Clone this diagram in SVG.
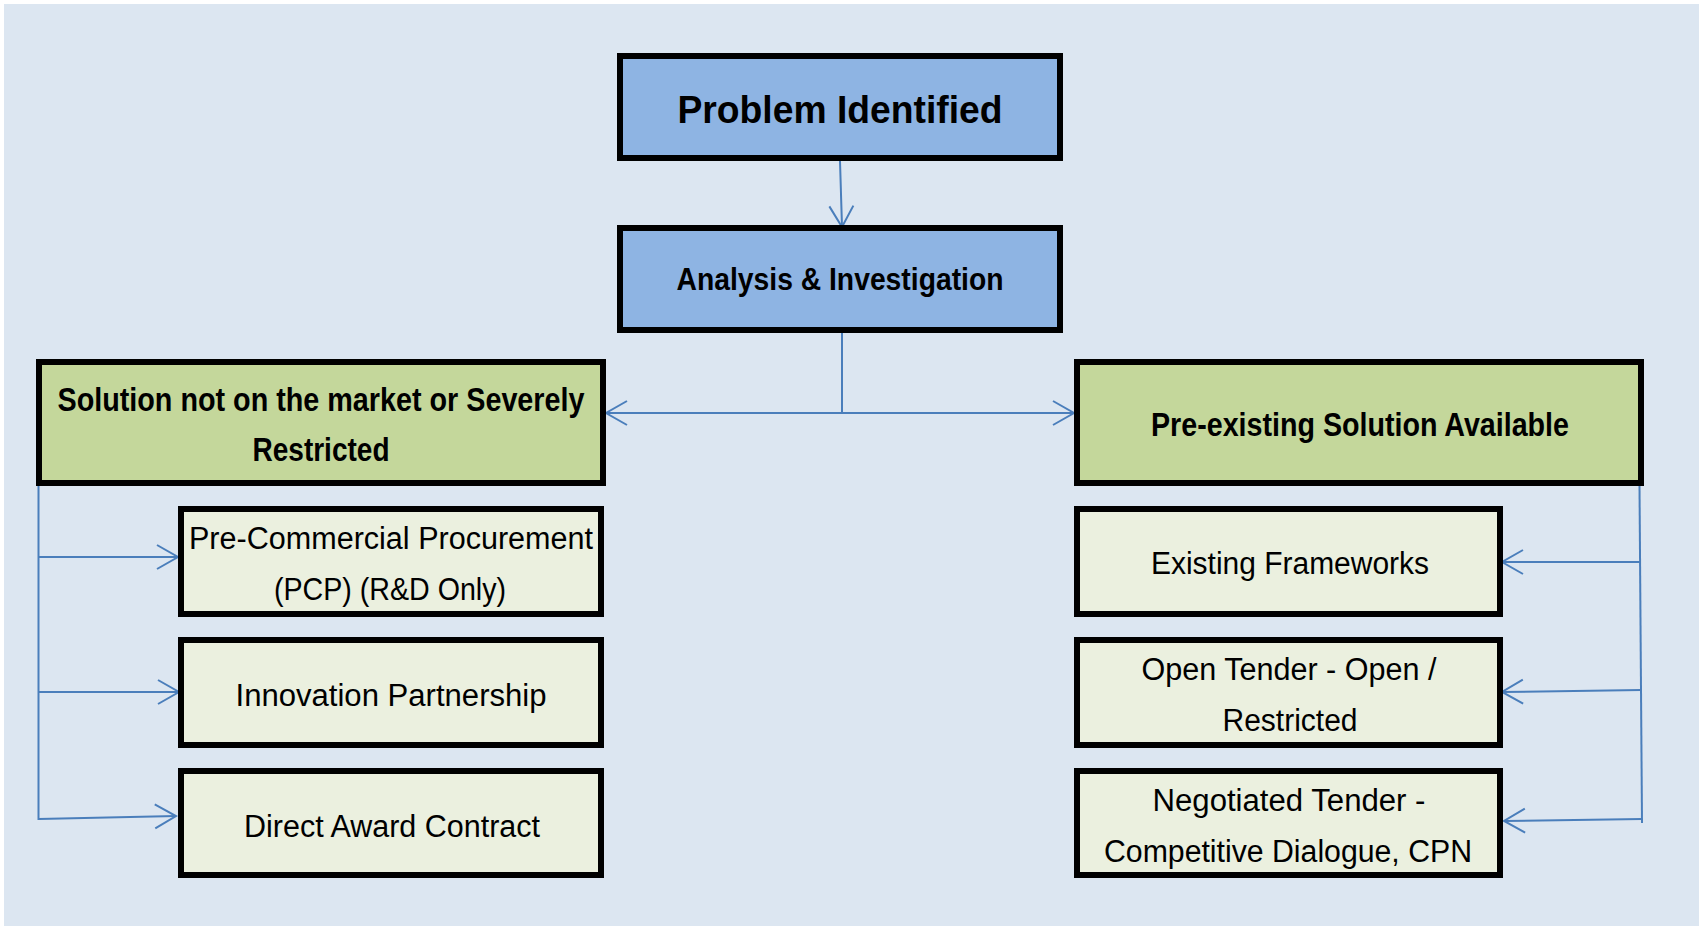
<svg xmlns="http://www.w3.org/2000/svg" width="1699" height="926" viewBox="0 0 1699 926">
<defs>
<style>
.box{stroke:#000;stroke-width:6}
.blue{fill:#8eb4e3}
.green{fill:#c4d79b}
.light{fill:#ebf0df}
.t{font-family:"Liberation Sans",Arial,sans-serif;fill:#000;text-anchor:middle}
.b{font-weight:bold}
.con{fill:none;stroke:#4a7ebb;stroke-width:2}
</style>
<marker id="arr" markerUnits="userSpaceOnUse" markerWidth="30" markerHeight="30" viewBox="-25 -15 30 30" refX="0" refY="0" orient="auto">
<path d="M-21,-12 L0,0 L-21,12" fill="none" stroke="#4a7ebb" stroke-width="2"/>
</marker>
</defs>
<rect x="0" y="0" width="1699" height="926" fill="#ffffff"/>
<rect x="4" y="4" width="1695" height="922" fill="#dce6f1"/>

<g id="connectors">
<path class="con" d="M840,161 L842,227" marker-end="url(#arr)"/>
<path class="con" d="M842,333 L842,413"/>
<path class="con" d="M842,413 L606,413" marker-end="url(#arr)"/>
<path class="con" d="M842,413 L1074,413" marker-end="url(#arr)"/>
<path class="con" d="M38.5,483 L38.5,820"/>
<path class="con" d="M38.5,557 L178,557" marker-end="url(#arr)"/>
<path class="con" d="M38.5,692 L179,692" marker-end="url(#arr)"/>
<path class="con" d="M38.5,819 L176,816" marker-end="url(#arr)"/>
<path class="con" d="M1639.5,486 L1642,823"/>
<path class="con" d="M1640,562 L1502,562" marker-end="url(#arr)"/>
<path class="con" d="M1641,690 L1502,692" marker-end="url(#arr)"/>
<path class="con" d="M1642,819 L1504,821" marker-end="url(#arr)"/>
</g>

<g id="problem">
<rect class="box blue" x="620" y="56" width="440" height="102"/>
<text class="t b" x="840" y="123" font-size="38" textLength="325" lengthAdjust="spacingAndGlyphs">Problem Identified</text>
</g>

<g id="analysis">
<rect class="box blue" x="620" y="228" width="440" height="102"/>
<text class="t b" x="840" y="290" font-size="31" textLength="327" lengthAdjust="spacingAndGlyphs">Analysis &amp; Investigation</text>
</g>

<g id="not-on-market">
<rect class="box green" x="39" y="362" width="564" height="121"/>
<text class="t b" x="321" y="411" font-size="33" textLength="527" lengthAdjust="spacingAndGlyphs">Solution not on the market or Severely</text>
<text class="t b" x="321" y="461" font-size="33" textLength="137" lengthAdjust="spacingAndGlyphs">Restricted</text>
</g>

<g id="pre-existing">
<rect class="box green" x="1077" y="362" width="564" height="121"/>
<text class="t b" x="1360" y="436" font-size="33" textLength="418" lengthAdjust="spacingAndGlyphs">Pre-existing Solution Available</text>
</g>

<g id="pcp">
<rect class="box light" x="181" y="509" width="420" height="105"/>
<text class="t" x="391" y="549" font-size="31" textLength="404" lengthAdjust="spacingAndGlyphs">Pre-Commercial Procurement</text>
<text class="t" x="390" y="600" font-size="31" textLength="232" lengthAdjust="spacingAndGlyphs">(PCP) (R&amp;D Only)</text>
</g>

<g id="innovation">
<rect class="box light" x="181" y="640" width="420" height="105"/>
<text class="t" x="391" y="706" font-size="31" textLength="311" lengthAdjust="spacingAndGlyphs">Innovation Partnership</text>
</g>

<g id="direct-award">
<rect class="box light" x="181" y="771" width="420" height="104"/>
<text class="t" x="392" y="837" font-size="31" textLength="296" lengthAdjust="spacingAndGlyphs">Direct Award Contract</text>
</g>

<g id="existing-frameworks">
<rect class="box light" x="1077" y="509" width="423" height="105"/>
<text class="t" x="1290" y="574" font-size="31" textLength="278" lengthAdjust="spacingAndGlyphs">Existing Frameworks</text>
</g>

<g id="open-tender">
<rect class="box light" x="1077" y="640" width="423" height="105"/>
<text class="t" x="1289" y="680" font-size="31" textLength="295" lengthAdjust="spacingAndGlyphs">Open Tender - Open /</text>
<text class="t" x="1290" y="731" font-size="31" textLength="135" lengthAdjust="spacingAndGlyphs">Restricted</text>
</g>

<g id="negotiated-tender">
<rect class="box light" x="1077" y="771" width="423" height="104"/>
<text class="t" x="1289" y="811" font-size="31" textLength="273" lengthAdjust="spacingAndGlyphs">Negotiated Tender -</text>
<text class="t" x="1288" y="862" font-size="31" textLength="368" lengthAdjust="spacingAndGlyphs">Competitive Dialogue, CPN</text>
</g>
</svg>
